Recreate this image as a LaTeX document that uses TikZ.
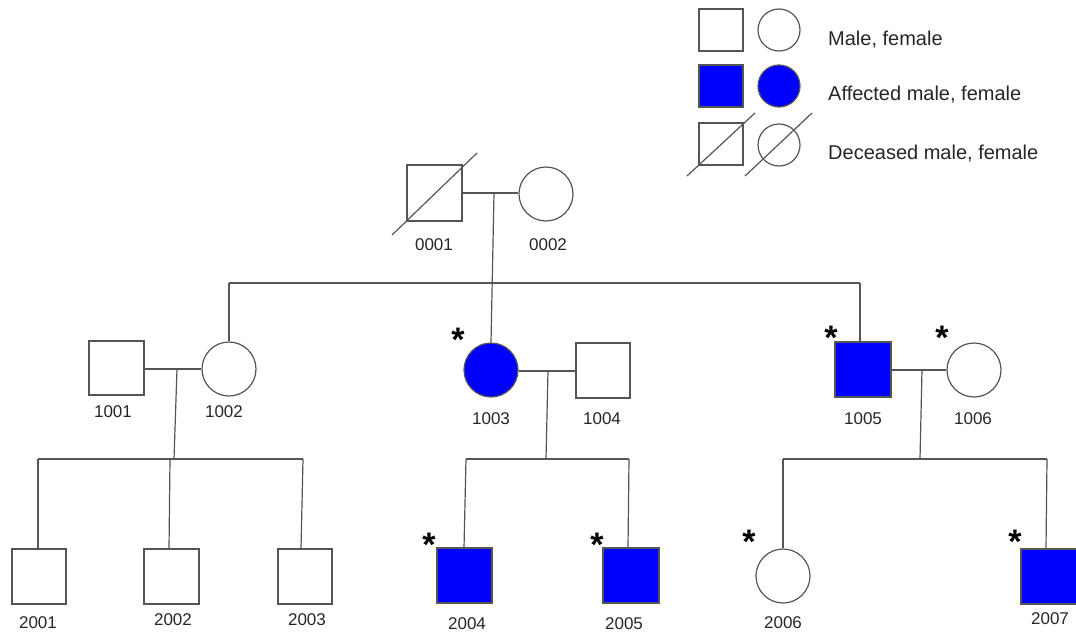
\documentclass[tikz,border=0pt]{standalone}
\usepackage{fontspec}
\setmainfont{Liberation Sans}
\definecolor{lc}{HTML}{555555}
\definecolor{tc}{HTML}{262626}
\definecolor{aff}{HTML}{0000FF}
\begin{document}
\begin{tikzpicture}[x=1pt,y=-1pt,
  line/.style={draw=lc,line width=1.2pt},
  male/.style={rectangle,draw=lc,line width=1.2pt,inner sep=0pt,minimum width=55,minimum height=55,fill=white},
  female/.style={circle,draw=lc,line width=1.2pt,inner sep=0pt,minimum size=54,fill=white},
  keymale/.style={male,minimum width=44,minimum height=42},
  keyfemale/.style={female,minimum size=42},
  affected/.style={fill=aff},
  lbl/.style={text=tc,inner sep=0pt,font=\fontsize{17}{17}\selectfont},
  keytext/.style={text=tc,inner sep=0pt,anchor=base west,font=\fontsize{20}{20}\selectfont},
  star/.style={inner sep=0pt,anchor=base,font=\bfseries\fontsize{34}{34}\selectfont}]
\useasboundingbox (0,0) rectangle (1076,635);

% ---------- key ----------
\node[keymale]   (k1m) at (721,30) {};
\node[keyfemale] (k1f) at (779,30) {};
\node[keymale,affected]   (k2m) at (721,86) {};
\node[keyfemale,affected] (k2f) at (779,86) {};
\node[keymale]   (k3m) at (721,144) {};
\node[keyfemale] (k3f) at (779,145) {};
\coordinate (k3ma) at (687,176); \coordinate (k3mb) at (755,113);
\coordinate (k3fa) at (745,176); \coordinate (k3fb) at (812,113);
\draw[line] (k3ma) -- (k3mb);
\draw[line] (k3fa) -- (k3fb);
\node[keytext] (t1) at (828,45)  {Male, female};
\node[keytext] (t2) at (828,100) {Affected male, female};
\node[keytext] (t3) at (828,159) {Deceased male, female};

% ---------- generation I ----------
\node[male,minimum height=56] (p0001) at (434.5,193) {};
\node[female] (p0002) at (546,194) {};
\coordinate (d0a) at (392,235); \coordinate (d0b) at (477,153);
\draw[line] (d0a) -- (d0b);
\node[lbl] (l0001) at (434,245) {0001};
\node[lbl] (l0002) at (548,245) {0002};
\coordinate (m0) at (494,193);
\draw[line] (p0001.east |- m0) -- (p0002.west |- m0);

% ---------- generation II ----------
\node[male,minimum height=54] (p1001) at (116.5,368) {};
\node[female] (p1002) at (229,369) {};
\node[female,affected] (p1003) at (491,370) {};
\node[male,minimum width=54] (p1004) at (603,370.5) {};
\node[male,affected,minimum width=56] (p1005) at (863,369.5) {};
\node[female] (p1006) at (974,370) {};
\node[lbl] (l1001) at (113,412) {1001};
\node[lbl] (l1002) at (224,412) {1002};
\node[lbl] (l1003) at (491,419) {1003};
\node[lbl] (l1004) at (602,419) {1004};
\node[lbl] (l1005) at (863,419) {1005};
\node[lbl] (l1006) at (973,419) {1006};
\node[star] (s1003) at (458,351) {*};
\node[star] (s1005) at (831,349) {*};
\node[star] (s1006) at (942,349) {*};

% sibship of generation II
\coordinate (g1L) at (229,283);
\coordinate (g1R) at (860,283);
\draw[line] (g1L) -- (g1R);
\draw[line] (m0) -- (p1003.north);
\draw[line] (g1L) -- (p1002.north);
\draw[line] (g1R) -- (g1R |- p1005.north);

% couples of generation II
\coordinate (m1) at (177,369);
\coordinate (m2) at (548,371);
\coordinate (m3) at (922,370);
\draw[line] (p1001.east |- m1) -- (p1002.west |- m1);
\draw[line] (p1003.east |- m2) -- (p1004.west |- m2);
\draw[line] (p1005.east |- m3) -- (p1006.west |- m3);

% ---------- generation III ----------
\node[male,minimum width=54] (p2001) at (39,576.5) {};
\node[male] (p2002) at (171.5,576.5) {};
\node[male,minimum width=54] (p2003) at (305,576.5) {};
\node[male,affected] (p2004) at (464.5,575.5) {};
\node[male,affected,minimum width=56] (p2005) at (631,575.5) {};
\node[female] (p2006) at (783,576) {};
\node[male,affected,minimum width=56] (p2007) at (1049,576.5) {};
\node[lbl] (l2001) at (38,623) {2001};
\node[lbl] (l2002) at (173,620) {2002};
\node[lbl] (l2003) at (307,620) {2003};
\node[lbl] (l2004) at (467,624) {2004};
\node[lbl] (l2005) at (624,624) {2005};
\node[lbl] (l2006) at (783,623) {2006};
\node[lbl] (l2007) at (1050,619) {2007};
\node[star] (s2004) at (429,556) {*};
\node[star] (s2005) at (597,556) {*};
\node[star] (s2006) at (749,553) {*};
\node[star] (s2007) at (1015,553) {*};

% sibships of generation III
\coordinate (b1) at (174,459);
\coordinate (b2) at (546,459);
\coordinate (b3) at (920,459);
\draw[line] (m1) -- (b1);
\draw[line] (m2) -- (b2);
\draw[line] (m3) -- (b3);

\coordinate (c2001) at (38,459);
\coordinate (c2002) at (170,459);
\coordinate (c2003) at (303,459);
\draw[line] (c2001) -- (c2003);
\draw[line] (c2001) -- (38,549);
\draw[line] (c2002) -- (169,549);
\draw[line] (c2003) -- (301,549);

\coordinate (c2004) at (466,459);
\coordinate (c2005) at (629,459);
\draw[line] (c2004) -- (c2005);
\draw[line] (c2004) -- (464,548);
\draw[line] (c2005) -- (628,548);

\coordinate (c2006) at (783,459);
\coordinate (c2007) at (1047,459);
\draw[line] (c2006) -- (c2007);
\draw[line] (c2006) -- (p2006.north);
\draw[line] (c2007) -- (1046,549);
\end{tikzpicture}
\end{document}
